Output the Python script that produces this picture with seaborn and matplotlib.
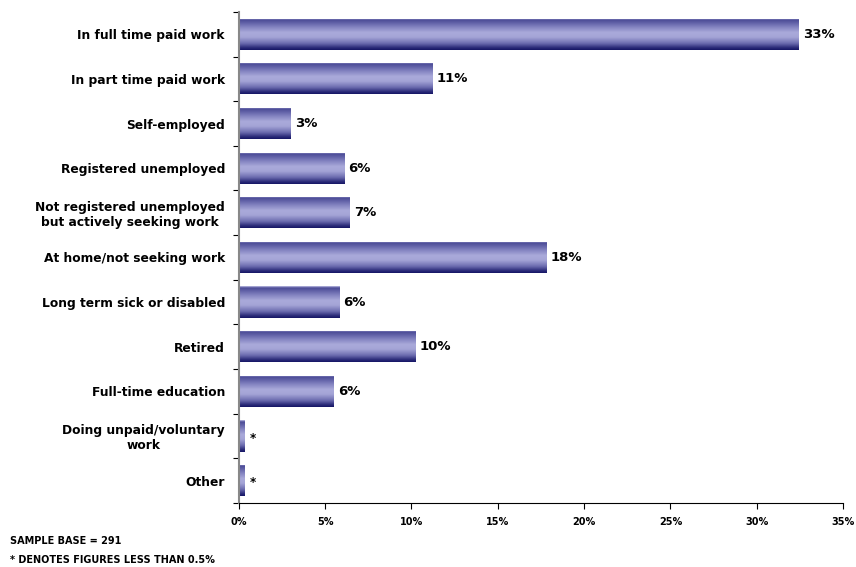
import numpy as np
import pandas as pd
import matplotlib
matplotlib.use("Agg")
import matplotlib.pyplot as plt
from matplotlib.colors import LinearSegmentedColormap
import seaborn as sns

categories = [
    "In full time paid work",
    "In part time paid work",
    "Self-employed",
    "Registered unemployed",
    "Not registered unemployed\nbut actively seeking work",
    "At home/not seeking work",
    "Long term sick or disabled",
    "Retired",
    "Full-time education",
    "Doing unpaid/voluntary\nwork",
    "Other",
]
values = [32.4, 11.2, 3.0, 6.1, 6.4, 17.8, 5.8, 10.2, 5.5, 0.3, 0.3]
labels = ["33%", "11%", "3%", "6%", "7%", "18%", "6%", "10%", "6%", "*", "*"]
xticks = [0, 5, 10, 15, 20, 25, 30, 35]

df = pd.DataFrame({"category": categories, "value": values})

sns.set_theme(style="white")
plt.rcParams["font.family"] = ["DejaVu Sans"]
plt.rcParams["text.color"] = "black"
plt.rcParams["xtick.color"] = "black"
plt.rcParams["ytick.color"] = "black"

fig = plt.figure(figsize=(8.56, 5.67), dpi=100)
ax = fig.add_axes([0.279, 0.113, 0.706, 0.866])

sns.barplot(data=df, x="value", y="category", orient="h", width=0.7,
            color="#6a6ab0", ax=ax, edgecolor="none")

# cylinder-style gradient on each bar (row 0 = top of the bar)
cmap = LinearSegmentedColormap.from_list(
    "cyl", [(0.0, "#b8b8e0"), (0.05, "#4a4a96"), (0.25, "#7c7cbc"),
            (0.45, "#aaaada"), (0.6, "#a4a4d6"), (0.8, "#6a6aae"),
            (0.93, "#2c2c7a"), (1.0, "#161666")])
grad = np.linspace(0, 1, 64).reshape(-1, 1)
for p in ax.patches:
    x0, y0 = p.get_x(), p.get_y()
    w, h = p.get_width(), p.get_height()
    p.set_facecolor("none")
    im = ax.imshow(grad, cmap=cmap, aspect="auto", interpolation="bilinear",
                   origin="upper", extent=(x0, x0 + w, y0 + h, y0), zorder=2)
    im.set_clip_path(p)

for i, (v, lab) in enumerate(zip(values, labels)):
    if lab == "*":
        ax.text(v + 0.35, i + 0.05, lab, va="center", ha="left",
                fontsize=8.5, fontweight="bold", color="black")
    else:
        ax.text(v + 0.25, i, lab, va="center", ha="left",
                fontsize=9.5, fontweight="bold", color="black")

n = len(categories)
ax.set_xlim(0, 35)
ax.set_ylim(n - 0.5, -0.5)
ax.set_xticks(xticks)
ax.set_xticklabels([f"{t}%" for t in xticks], fontsize=7, fontweight="bold")
ax.set_yticks(np.arange(n + 1) - 0.5)
ax.set_yticklabels([])
ax.set_yticks(np.arange(n), minor=True)
ax.set_yticklabels(categories, minor=True, fontsize=8.8, fontweight="bold",
                   ha="right", multialignment="center")
ax.tick_params(axis="y", which="minor", length=0, pad=10)
ax.tick_params(axis="y", which="major", length=4, width=0.8, direction="out",
               color="black", left=True)
ax.tick_params(axis="x", length=4, width=0.8, direction="out", color="black",
               bottom=True, pad=6)
ax.set_xlabel("")
ax.set_ylabel("")

for s in ["top", "right"]:
    ax.spines[s].set_visible(False)
ax.spines["left"].set_color("#888888")
ax.spines["left"].set_linewidth(1.5)
ax.spines["bottom"].set_color("black")
ax.spines["bottom"].set_linewidth(0.8)

fig.text(10 / 856, 1 - 541 / 567, "SAMPLE BASE = 291", fontsize=7,
         fontweight="bold", va="center")
fig.text(10 / 856, 1 - 560 / 567, "* DENOTES FIGURES LESS THAN 0.5%",
         fontsize=7, fontweight="bold", va="center")

fig.savefig("out.png", dpi=100)
